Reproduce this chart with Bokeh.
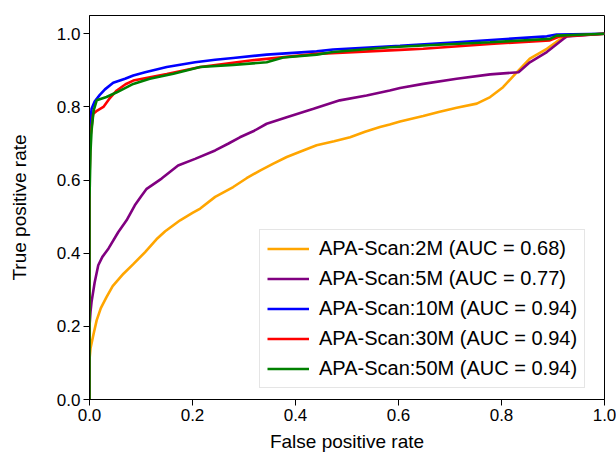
from bokeh.plotting import figure
from bokeh.models import Range1d, FixedTicker, PrintfTickFormatter, Legend, LegendItem
from bokeh.embed import file_html
from bokeh.resources import INLINE

labels = ["APA-Scan:2M (AUC = 0.68)", "APA-Scan:5M (AUC = 0.77)", "APA-Scan:10M (AUC = 0.94)",
          "APA-Scan:30M (AUC = 0.94)", "APA-Scan:50M (AUC = 0.94)"]
colors = ["orange", "purple", "blue", "red", "green"]

fpr_2m = [0, 0, 0.002, 0.008, 0.014, 0.022, 0.033, 0.045, 0.066, 0.085, 0.108, 0.13, 0.147, 0.176, 0.2,
          0.215, 0.244, 0.279, 0.305, 0.331, 0.357, 0.383, 0.41, 0.441, 0.475, 0.506, 0.535, 0.564, 0.583,
          0.603, 0.648, 0.68, 0.713, 0.752, 0.778, 0.803, 0.83, 0.855, 0.888, 0.92, 0.93, 1.0]
tpr_2m = [0, 0.11, 0.14, 0.18, 0.217, 0.25, 0.28, 0.31, 0.344, 0.37, 0.403, 0.438, 0.46, 0.49, 0.51,
          0.522, 0.554, 0.581, 0.605, 0.626, 0.645, 0.663, 0.678, 0.695, 0.706, 0.717, 0.732, 0.745, 0.752,
          0.760, 0.775, 0.787, 0.798, 0.809, 0.827, 0.854, 0.895, 0.932, 0.959, 0.991, 0.995, 1.0]

fpr_5m = [0, 0, 0.002, 0.004, 0.01, 0.017, 0.025, 0.037, 0.056, 0.072, 0.088, 0.1, 0.111, 0.14, 0.172,
          0.205, 0.244, 0.27, 0.292, 0.32, 0.344, 0.383, 0.435, 0.486, 0.538, 0.583, 0.603, 0.648, 0.713,
          0.778, 0.833, 0.855, 0.888, 0.92, 0.927, 1.0]
tpr_5m = [0, 0.2, 0.24, 0.267, 0.32, 0.367, 0.39, 0.413, 0.458, 0.49, 0.531, 0.555, 0.576, 0.604, 0.64,
          0.658, 0.681, 0.7, 0.717, 0.735, 0.754, 0.772, 0.795, 0.818, 0.831, 0.845, 0.852, 0.863, 0.877,
          0.889, 0.895, 0.922, 0.95, 0.986, 0.993, 1.0]

fpr_10m = [0, 0, 0.002, 0.004, 0.01, 0.02, 0.03, 0.046, 0.069, 0.085, 0.108, 0.15, 0.205, 0.244, 0.279,
           0.344, 0.441, 0.473, 0.603, 0.713, 0.888, 0.907, 1.0]
tpr_10m = [0, 0.7, 0.76, 0.795, 0.815, 0.833, 0.848, 0.866, 0.877, 0.886, 0.895, 0.909, 0.922, 0.929, 0.934,
           0.943, 0.952, 0.957, 0.967, 0.977, 0.993, 0.998, 1.0]

fpr_30m = [0, 0, 0.002, 0.007, 0.015, 0.027, 0.04, 0.053, 0.07, 0.085, 0.15, 0.215, 0.312, 0.441, 0.603,
           0.648, 0.778, 0.894, 0.914, 1.0]
tpr_30m = [0, 0.6, 0.72, 0.781, 0.79, 0.8, 0.825, 0.845, 0.862, 0.872, 0.89, 0.909, 0.927, 0.945, 0.956,
           0.959, 0.972, 0.982, 0.993, 1.0]

fpr_50m = [0, 0, 0.002, 0.004, 0.008, 0.014, 0.033, 0.053, 0.085, 0.117, 0.163, 0.215, 0.279, 0.344, 0.376,
           0.441, 0.473, 0.583, 0.648, 0.778, 0.894, 0.907, 1.0]
tpr_50m = [0, 0.55, 0.68, 0.736, 0.79, 0.818, 0.827, 0.84, 0.863, 0.877, 0.891, 0.909, 0.915, 0.922, 0.935,
           0.943, 0.95, 0.963, 0.968, 0.977, 0.986, 0.995, 1.0]

ticks = [0.0, 0.2, 0.4, 0.6, 0.8, 1.0]

FONT = "Liberation Sans"

p = figure(frame_width=515, frame_height=384, output_backend="svg", toolbar_location=None,
           x_range=Range1d(0, 1.0), y_range=Range1d(0, 1.05),
           min_border_left=89, min_border_right=12, min_border_top=15, min_border_bottom=40)
p.background_fill_color = "white"
p.border_fill_color = "white"
p.outline_line_color = "black"
p.outline_line_width = 1
p.xgrid.visible = False
p.ygrid.visible = False

series = [(fpr_2m, tpr_2m), (fpr_5m, tpr_5m), (fpr_10m, tpr_10m), (fpr_30m, tpr_30m), (fpr_50m, tpr_50m)]
items = []
for (xs, ys), c, lab in zip(series, colors, labels):
    r = p.line(xs, ys, line_color=c, line_width=2.6)
    items.append(LegendItem(label=lab, renderers=[r]))

for ax in (p.xaxis[0], p.yaxis[0]):
    ax.ticker = FixedTicker(ticks=ticks)
    ax.formatter = PrintfTickFormatter(format="%.1f")
    ax.minor_tick_line_color = None
    ax.major_tick_out = 6
    ax.major_tick_in = 0
    ax.major_label_text_font = FONT
    ax.major_label_text_font_size = "17px"
    ax.major_label_text_color = "black"
    ax.axis_label_text_font = FONT
    ax.axis_label_text_font_size = "19px"
    ax.axis_label_text_font_style = "normal"
    ax.axis_label_text_color = "black"
    ax.axis_line_color = "black"
    ax.major_tick_line_color = "black"

p.xaxis.major_label_standoff = 3
p.xaxis.axis_label_standoff = 7
p.yaxis.major_label_standoff = 3
p.yaxis.axis_label_standoff = 24

p.xaxis.axis_label = "False positive rate"
p.yaxis.axis_label = "True positive rate"

legend = Legend(items=items, location=(170, 11))
legend.label_text_font = FONT
legend.label_text_font_size = "20px"
legend.label_text_color = "black"
legend.glyph_width = 42
legend.glyph_height = 21
legend.label_height = 21
legend.label_standoff = 10
legend.spacing = 7
legend.padding = 7
legend.margin = 0
legend.border_line_color = "#cccccc"
legend.border_line_width = 1
legend.background_fill_alpha = 0.8
p.add_layout(legend, "center")

open("out.html", "w").write(file_html(p, INLINE))
